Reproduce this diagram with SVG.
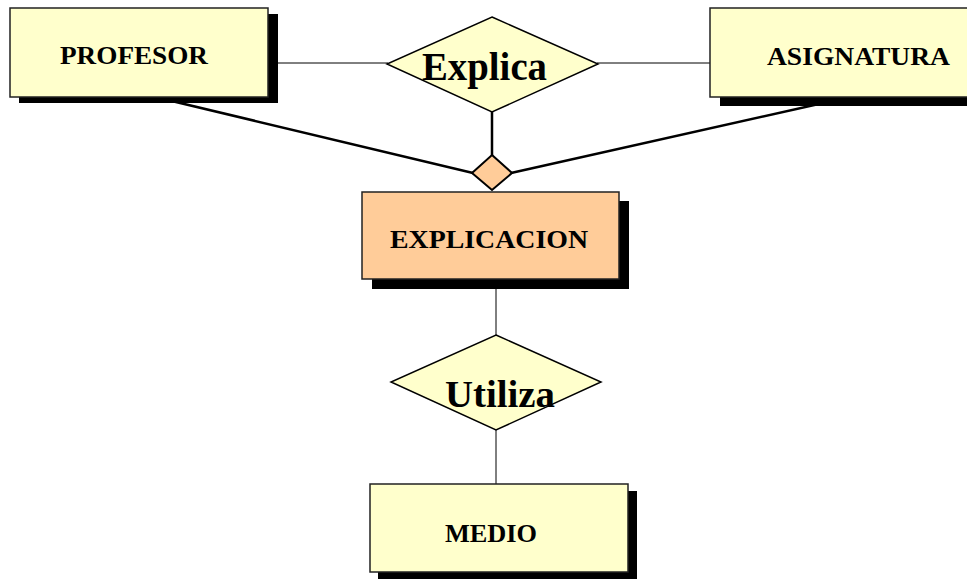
<svg xmlns="http://www.w3.org/2000/svg" width="967" height="579" viewBox="0 0 967 579">
<style>
.ent{fill:#FFFFCC;stroke:#222;stroke-width:1.5}
.weak{fill:#FFCC99;stroke:#222;stroke-width:1.5}
.sh{fill:#000}
.rel{fill:#FFFFCC;stroke:#000;stroke-width:1.5}
.thin{stroke:#000;stroke-width:1;fill:none}
.thick{stroke:#000;stroke-width:2.5;fill:none}
.lbl{font-family:"Liberation Serif","Times New Roman",serif;font-weight:bold;fill:#000}
.s{font-size:25.5px}
.b{font-size:39px}
</style>
<rect width="967" height="579" fill="#fff"/>
<g id="connectors">
<line class="thin" x1="268" y1="63" x2="388" y2="63"/>
<line class="thin" x1="597" y1="63" x2="710" y2="63"/>
<line class="thick" x1="155" y1="97" x2="473" y2="173"/>
<line class="thick" x1="850" y1="97" x2="511" y2="173"/>
<line class="thick" x1="492" y1="110" x2="492" y2="156"/>
<line class="thin" x1="496" y1="279" x2="496" y2="336"/>
<line class="thin" x1="496" y1="429" x2="496" y2="484"/>
</g>
<g id="profesor">
<rect class="sh" x="19" y="14" width="259" height="89"/>
<rect class="ent" x="10" y="8" width="258" height="89"/>
<text class="lbl s" x="60" y="64" textLength="148" lengthAdjust="spacingAndGlyphs">PROFESOR</text>
</g>
<g id="asignatura">
<rect class="sh" x="720" y="16" width="260" height="90"/>
<rect class="ent" x="710" y="8" width="270" height="89"/>
<text class="lbl s" x="767" y="65" textLength="183" lengthAdjust="spacingAndGlyphs">ASIGNATURA</text>
</g>
<g id="explica">
<polygon class="rel" points="492,17 598,64 492,112 387,64"/>
<text class="lbl b" x="422" y="80" textLength="125" lengthAdjust="spacingAndGlyphs">Explica</text>
</g>
<g id="agregacion">
<polygon class="weak" points="492,155 512,173 492,190 472,173" style="stroke:#000;stroke-width:2"/>
</g>
<g id="explicacion">
<rect class="sh" x="372" y="201" width="257" height="88"/>
<rect class="weak" x="362" y="192" width="257" height="87"/>
<text class="lbl s" x="390" y="248" textLength="198" lengthAdjust="spacingAndGlyphs">EXPLICACION</text>
</g>
<g id="utiliza">
<polygon class="rel" points="496,335 601,382 496,430 391,382"/>
<text class="lbl b" x="445" y="407" style="font-size:37px" textLength="110" lengthAdjust="spacingAndGlyphs">Utiliza</text>
</g>
<g id="medio">
<rect class="sh" x="378" y="491" width="259" height="88"/>
<rect class="ent" x="370" y="484" width="258" height="88"/>
<text class="lbl s" x="445" y="542" textLength="92" lengthAdjust="spacingAndGlyphs">MEDIO</text>
</g>
</svg>
